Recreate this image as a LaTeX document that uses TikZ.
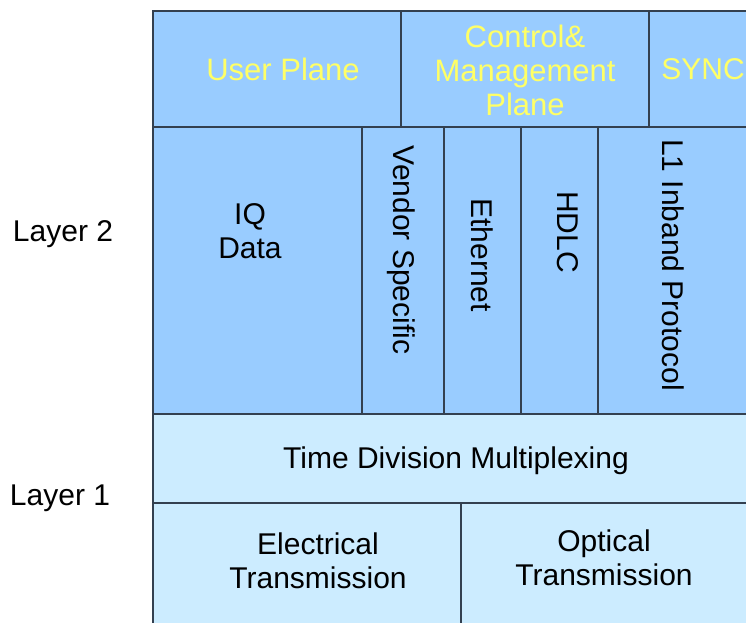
\documentclass[tikz,border=0pt]{standalone}
\usepackage{fontspec}
\setmainfont{Liberation Sans}
\definecolor{darkblue}{HTML}{99CCFF}
\definecolor{lightblue}{HTML}{CCECFF}
\definecolor{ylw}{HTML}{FFFF66}
\definecolor{edge}{HTML}{334050}
\tikzset{
  cell/.style={draw=edge, line width=1.4pt},
  lbl/.style={inner sep=0pt, align=center, font=\fontsize{30}{34}\selectfont, text=black},
  ylbl/.style={lbl, text=ylw, font=\fontsize{31}{34}\selectfont},
  vlbl/.style={lbl, rotate=-90, anchor=center},
}
\begin{document}
\begin{tikzpicture}[x=1pt,y=-1pt]
\useasboundingbox (0,0) rectangle (746,622);
\begin{scope}
\clip (0,0) rectangle (746,622);
% top row
\fill[darkblue] (153,11) rectangle (760,127);
\draw[cell] (153,11) rectangle (401,127);
\draw[cell] (401,11) rectangle (649,127);
\draw[cell] (649,11) rectangle (760,127);
% layer 2 row
\fill[darkblue] (153,127) rectangle (760,414);
\draw[cell] (153,127) rectangle (362,414);
\draw[cell] (362,127) rectangle (444,414);
\draw[cell] (444,127) rectangle (521,414);
\draw[cell] (521,127) rectangle (598,414);
\draw[cell] (598,127) rectangle (760,414);
% TDM row
\fill[lightblue] (153,414) rectangle (760,503);
\draw[cell] (153,414) rectangle (760,503);
% bottom row
\fill[lightblue] (153,503) rectangle (760,630);
\draw[cell] (153,503) rectangle (461,630);
\draw[cell] (461,503) rectangle (760,630);
\end{scope}
% texts
\node[ylbl] (up) at (283,69) {User Plane};
\node[ylbl] (cm) at (525,70) {Control\&\\Management\\Plane};
\node[lbl, text=ylw, anchor=east] (sync) at (745,69) {SYNC};
\node[lbl] (iq) at (250,231) {IQ\\Data};
\node[vlbl] (vs) at (401,250) {Vendor Specific};
\node[vlbl] (eth) at (482,255) {Ethernet};
\node[vlbl] (hdlc) at (568,232) {HDLC};
\node[vlbl] (l1) at (673,265) {L1 Inband Protocol};
\node[lbl] (tdm) at (456,461) {Time Division Multiplexing};
\node[lbl] (el) at (318,561) {Electrical\\Transmission};
\node[lbl] (op) at (604,558) {Optical\\Transmission};
\node[lbl] (l2) at (63,234) {Layer 2};
\node[lbl] (l1l) at (60,498) {Layer 1};
\end{tikzpicture}
\end{document}
